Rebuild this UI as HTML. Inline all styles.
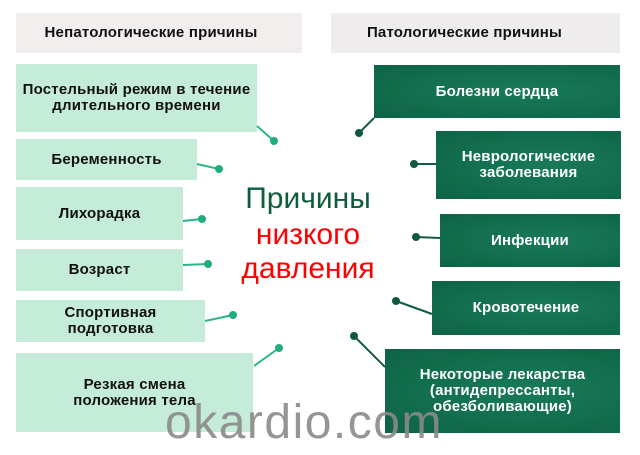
<!DOCTYPE html>
<html><head><meta charset="utf-8"><style>
body{margin:0;width:640px;height:455px;background:#fff;position:relative;overflow:hidden;font-family:"Liberation Sans",sans-serif}
.b{position:absolute;display:flex;align-items:center;justify-content:center;text-align:center;font-weight:bold;font-size:15px;line-height:16px;box-sizing:border-box;letter-spacing:0.2px}
.h{background:#f3eeee;color:#111;padding-right:16px}
.hr{background:#eeeced;padding-right:22px}
.l{background:#c5ecd9;color:#111}
.r{background:radial-gradient(ellipse at 60% 50%,#197a58,#0d6445);color:#fff}
svg{position:absolute;left:0;top:0}
.t{position:absolute;font-size:30px;line-height:34px;text-align:center;width:200px;left:208px}
</style></head><body>
<div class="b h" style="left:16px;top:13px;width:286px;height:40px">Непатологические причины</div>
<div class="b h hr" style="left:331px;top:13px;width:289px;height:40px">Патологические причины</div>

<div class="b l" style="left:16px;top:64px;width:241px;height:68px">Постельный режим в течение<br>длительного времени</div>
<div class="b l" style="left:16px;top:139px;width:181px;height:41px">Беременность</div>
<div class="b l" style="left:16px;top:187px;width:167px;height:53px">Лихорадка</div>
<div class="b l" style="left:16px;top:249px;width:167px;height:42px">Возраст</div>
<div class="b l" style="left:16px;top:300px;width:189px;height:42px">Спортивная<br>подготовка</div>
<div class="b l" style="left:16px;top:353px;width:237px;height:79px">Резкая смена<br>положения тела</div>

<div class="b r" style="left:374px;top:65px;width:246px;height:53px">Болезни сердца</div>
<div class="b r" style="left:436px;top:131px;width:185px;height:68px">Неврологические<br>заболевания</div>
<div class="b r" style="left:440px;top:214px;width:180px;height:53px">Инфекции</div>
<div class="b r" style="left:432px;top:281px;width:188px;height:54px">Кровотечение</div>
<div class="b r" style="left:385px;top:349px;width:235px;height:84px">Некоторые лекарства<br>(антидепрессанты,<br>обезболивающие)</div>

<svg width="640" height="455">
<g stroke="#2bb784" stroke-width="2" fill="#1fae7a">
<line x1="257" y1="126" x2="274" y2="141"/><circle cx="274" cy="141" r="4" stroke="none"/>
<line x1="197" y1="164" x2="219" y2="169"/><circle cx="219" cy="169" r="4" stroke="none"/>
<line x1="183" y1="221" x2="202" y2="219"/><circle cx="202" cy="219" r="4" stroke="none"/>
<line x1="183" y1="265" x2="208" y2="264"/><circle cx="208" cy="264" r="4" stroke="none"/>
<line x1="205" y1="321" x2="233" y2="315"/><circle cx="233" cy="315" r="4" stroke="none"/>
<line x1="254" y1="366" x2="279" y2="348"/><circle cx="279" cy="348" r="4" stroke="none"/>
</g>
<g stroke="#125c42" stroke-width="2" fill="#0f5a3f">
<line x1="374" y1="118" x2="359" y2="133"/><circle cx="359" cy="133" r="4" stroke="none"/>
<line x1="436" y1="164" x2="414" y2="164"/><circle cx="414" cy="164" r="4" stroke="none"/>
<line x1="440" y1="238" x2="416" y2="237"/><circle cx="416" cy="237" r="4" stroke="none"/>
<line x1="432" y1="314" x2="396" y2="301"/><circle cx="396" cy="301" r="4" stroke="none"/>
<line x1="385" y1="367" x2="354" y2="336"/><circle cx="354" cy="336" r="4" stroke="none"/>
</g>
</svg>

<div class="t" style="top:182px;color:#0f5c3d">Причины</div>
<div class="t" style="top:218px;color:#f00">низкого</div>
<div class="t" style="top:252px;color:#f00">давления</div>
<div style="position:absolute;left:165px;top:398px;font-size:48px;line-height:50px;color:#8a8a8a;letter-spacing:1.5px;opacity:.9">okardio.com</div>
</body></html>
